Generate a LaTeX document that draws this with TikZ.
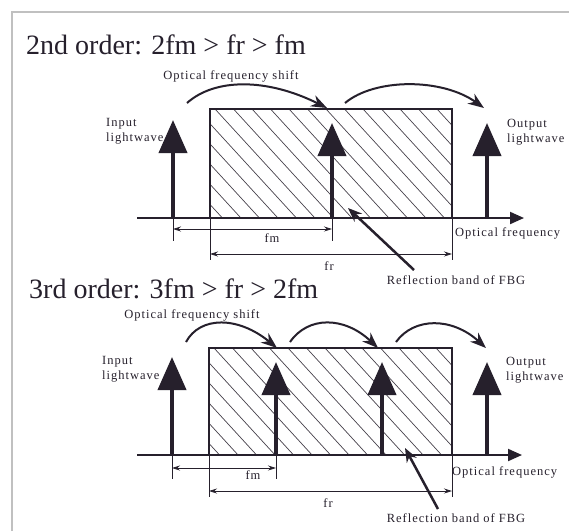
\documentclass[tikz,border=0pt]{standalone}
\usepackage{fontspec}
\setmainfont{Liberation Serif}
\newfontfamily\lblfont[LetterSpace=8]{Liberation Serif}
\usetikzlibrary{arrows.meta}
\definecolor{ink}{RGB}{38,32,44}
\definecolor{framegray}{RGB}{192,192,192}

\begin{document}
\begin{tikzpicture}[x=1pt,y=-1pt,
heading/.style={anchor=base west,inner sep=0,text=ink,font=\fontsize{28}{30}\selectfont},
lbl/.style={inner sep=0,text=ink,align=left,font=\lblfont\fontsize{12.5}{14.5}\selectfont},
band/.style={draw=ink,line width=2pt,inner sep=0,outer sep=0,anchor=north west,
  path picture={\foreach \h in {-6,...,14}
    \draw[ink!85,line width=0.7pt] ([xshift=\h*18.5pt+5pt]path picture bounding box.north west) -- ++(110,120);}},
freqaxis/.style={draw=ink,line width=2pt,-{Triangle[length=14pt,width=12pt]}},
wave/.style={draw=ink,line width=4pt,-{Triangle[length=33pt,width=28pt]}},
hop/.style={draw=ink,line width=2pt,-{Stealth[length=16pt,width=12pt]}},
dim/.style={draw=ink,line width=0.8pt,{Stealth[length=8pt,width=5pt]}-{Stealth[length=8pt,width=5pt]}},
ext/.style={draw=ink,line width=0.8pt},
pointer/.style={draw=ink,line width=2.5pt,-{Stealth[length=14pt,width=11pt]}}]
\useasboundingbox[fill=white] (0,0) rectangle (569,531);
\draw[framegray,line width=1.5pt] (12,531) -- (12,12) -- (569,12);

% 2nd order
\node[heading] (titleA) at (26,54) {2nd order: 2fm > fr > fm};
\node[lbl] (hoplblA) at (231,76) {Optical frequency shift};
\node[band,minimum width=242pt,minimum height=109pt] (bandA) at (210,109) {};
\coordinate (axAs) at (137,218); \coordinate (axAe) at (524,218);
\draw[freqaxis] (axAs) -- (axAe);
\coordinate (inA) at (173,218); \coordinate (inAtip) at (173,120);
\coordinate (midA) at (332,218); \coordinate (midAtip) at (332,123);
\coordinate (outA) at (487,218); \coordinate (outAtip) at (487,123);
\draw[wave] (inA) -- (inAtip);
\draw[wave] (midA) -- (midAtip);
\draw[wave] (outA) -- (outAtip);
\coordinate (hopA1) at (187,103); \coordinate (hopA2) at (327,108);
\coordinate (hopA3) at (345,103); \coordinate (hopA4) at (484,108);
\draw[hop] (hopA1) .. controls (215,78) and (267,78) .. (hopA2);
\draw[hop] (hopA3) .. controls (375,78) and (442,78) .. (hopA4);
\node[lbl,anchor=west] (inlblA) at (106,131) {Input\\lightwave};
\node[lbl,anchor=west] (outlblA) at (507,132) {Output\\lightwave};
\draw[ext] (inA) -- ++(0,23);
\draw[ext] (midA) -- ++(0,23);
\draw[ext] (bandA.south west) -- ++(0,42);
\draw[ext] (bandA.south east) -- ++(0,42);
\coordinate (fmA1) at (173,229); \coordinate (fmA2) at (332,229);
\draw[dim] (fmA1) -- (fmA2);
\node[lbl] (fmlblA) at (272,238) {fm};
\coordinate (frA1) at (210,254); \coordinate (frA2) at (452,254);
\draw[dim] (frA1) -- (frA2);
\node[lbl] (frlblA) at (329,266) {fr};
\node[lbl,anchor=west] (freqA) at (455,233) {Optical frequency};
\node[lbl] (reflA) at (456,280) {Reflection band of FBG};
\coordinate (ptrA) at (414,270); \coordinate (ptrAtip) at (348,208);
\draw[pointer] (ptrA) -- (ptrAtip);

% 3rd order
\node[heading] (titleB) at (29,298) {3rd order: 3fm > fr > 2fm};
\node[lbl] (hoplblB) at (192,315) {Optical frequency shift};
\node[band,minimum width=243pt,minimum height=107pt] (bandB) at (209,348) {};
\coordinate (axBs) at (137,455); \coordinate (axBe) at (522,455);
\draw[freqaxis] (axBs) -- (axBe);
\coordinate (inB) at (172,455); \coordinate (inBtip) at (172,357);
\coordinate (midB) at (276,455); \coordinate (midBtip) at (276,362);
\coordinate (thirdB) at (382,455); \coordinate (thirdBtip) at (382,362);
\coordinate (outB) at (487,455); \coordinate (outBtip) at (487,362);
\draw[wave] (inB) -- (inBtip);
\draw[wave] (midB) -- (midBtip);
\draw[wave] (thirdB) -- (thirdBtip);
\draw[wave] (outB) -- (outBtip);
\coordinate (hopB1) at (186,342); \coordinate (hopB2) at (277,348);
\coordinate (hopB3) at (290,342); \coordinate (hopB4) at (378,348);
\coordinate (hopB5) at (396,342); \coordinate (hopB6) at (486,348);
\draw[hop] (hopB1) .. controls (200,316) and (238,316) .. (hopB2);
\draw[hop] (hopB3) .. controls (308,316) and (344,316) .. (hopB4);
\draw[hop] (hopB5) .. controls (414,317) and (452,317) .. (hopB6);
\node[lbl,anchor=west] (inlblB) at (102,369) {Input\\lightwave};
\node[lbl,anchor=west] (outlblB) at (506,370) {Output\\lightwave};
\draw[ext] (inB) -- ++(0,24);
\draw[ext] (midB) -- ++(0,24);
\draw[ext] (bandB.south west) -- ++(0,42);
\draw[ext] (bandB.south east) -- ++(0,42);
\coordinate (fmB1) at (172,468); \coordinate (fmB2) at (276,468);
\draw[dim] (fmB1) -- (fmB2);
\node[lbl] (fmlblB) at (253,475) {fm};
\coordinate (frB1) at (209,491); \coordinate (frB2) at (452,491);
\draw[dim] (frB1) -- (frB2);
\node[lbl] (frlblB) at (328,503) {fr};
\node[lbl,anchor=west] (freqB) at (452,472) {Optical frequency};
\node[lbl] (reflB) at (456,518) {Reflection band of FBG};
\coordinate (ptrB) at (438,509); \coordinate (ptrBtip) at (405,448);
\draw[pointer] (ptrB) -- (ptrBtip);
\end{tikzpicture}
\end{document}
